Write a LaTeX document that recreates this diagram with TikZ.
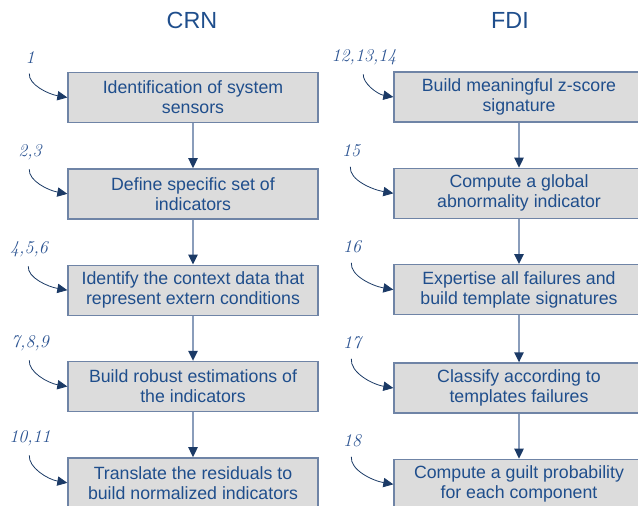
\documentclass[tikz,border=0pt]{standalone}
\usepackage{fontspec}
\setsansfont{Liberation Sans}
\usetikzlibrary{arrows.meta,positioning}

\definecolor{txtblue}{HTML}{1F4E8C}
\definecolor{boxfill}{HTML}{DCDCDC}
\definecolor{boxline}{HTML}{6F84A6}
\definecolor{linkline}{HTML}{8A9DBB}
\definecolor{tipnavy}{HTML}{1B3A66}
\definecolor{numblue}{HTML}{2C5492}

\begin{document}
\begin{tikzpicture}[
    x = 0.75pt, y = -0.75pt,
    node distance = 33.75pt,
    every node/.style = {font=\sffamily\fontsize{13.3}{15}\selectfont, text=txtblue},
    head/.style = {font=\sffamily\fontsize{17.5}{20}\selectfont},
    box/.style = {
        rectangle,
        draw=boxline,
        line width=1pt,
        fill=boxfill,
        align=center,
        inner sep=0pt,
        minimum width=187.5pt,
        minimum height=37.5pt
    },
    num/.style = {font=\rmfamily\itshape\fontsize{13.5}{15}\selectfont, text=numblue, inner sep=1pt},
    arrow/.style = {
        -{Triangle[length=7.5pt,width=7pt,color=tipnavy]},
        draw=linkline,
        line width=1.2pt
    },
    feed/.style = {
        -{Triangle[length=7.5pt,width=7pt,color=tipnavy]},
        draw=tipnavy,
        line width=0.6pt,
        shorten <=6pt
    }
]
\useasboundingbox (0,0) rectangle (638,506);
\clip (0,0) rectangle (638,506);

% headers
\node[head] (crn) at (192,20) {CRN};
\node[head] (fdi) at (510,20) {FDI};

% CRN column
\node[box] (c1) at (193,97.5) {Identification of system\\ sensors};
\node[box, below=of c1] (c2) {Define specific set of\\ indicators};
\node[box, below=of c2] (c3) {Identify the context data that\\ represent extern conditions};
\node[box, below=of c3] (c4) {Build robust estimations of\\ the indicators};
\node[box, below=of c4] (c5) {Translate the residuals to\\ build normalized indicators};

% FDI column
\node[box] (f1) at (519,97) {Build meaningful z-score\\ signature};
\node[box, below=of f1] (f2) {Compute a global\\ abnormality indicator};
\node[box, below=of f2] (f3) {Expertise all failures and\\ build template signatures};
\node[box, below=of f3, yshift=-1.5pt] (f4) {Classify according to\\ templates failures};
\node[box, below=of f4] (f5) {Compute a guilt probability\\ for each component};

\draw[arrow] (c1) -- (c2);
\draw[arrow] (c2) -- (c3);
\draw[arrow] (c3) -- (c4);
\draw[arrow] (c4) -- (c5);
\draw[arrow] (f1) -- (f2);
\draw[arrow] (f2) -- (f3);
\draw[arrow] (f3) -- (f4);
\draw[arrow] (f4) -- (f5);

% step numbers
\node[num] (n1) at (30,58) {1};
\node[num] (n2) at (30,152) {2,3};
\node[num] (n3) at (29,249) {4,5,6};
\node[num] (n4) at (30,343) {7,8,9};
\node[num] (n5) at (30,438) {10,11};
\node[num] (m1) at (364,57) {12,13,14};
\node[num] (m2) at (351,151) {15};
\node[num] (m3) at (352,247) {16};
\node[num] (m4) at (352,343) {17};
\node[num] (m5) at (352,441) {18};

\draw[feed] (n1.south) to[out=-95,in=170] (c1.west);
\draw[feed] (n2.south) to[out=-95,in=170] (c2.west);
\draw[feed] (n3.south) to[out=-95,in=170] (c3.west);
\draw[feed] (n4.south) to[out=-95,in=170] (c4.west);
\draw[feed] (n5.south) to[out=-95,in=170] (c5.west);
\draw[feed] (m1.south) to[out=-95,in=170] (f1.west);
\draw[feed] (m2.south) to[out=-95,in=170] (f2.west);
\draw[feed] (m3.south) to[out=-95,in=170] (f3.west);
\draw[feed] (m4.south) to[out=-95,in=170] (f4.west);
\draw[feed] (m5.south) to[out=-95,in=170] (f5.west);

\end{tikzpicture}
\end{document}
